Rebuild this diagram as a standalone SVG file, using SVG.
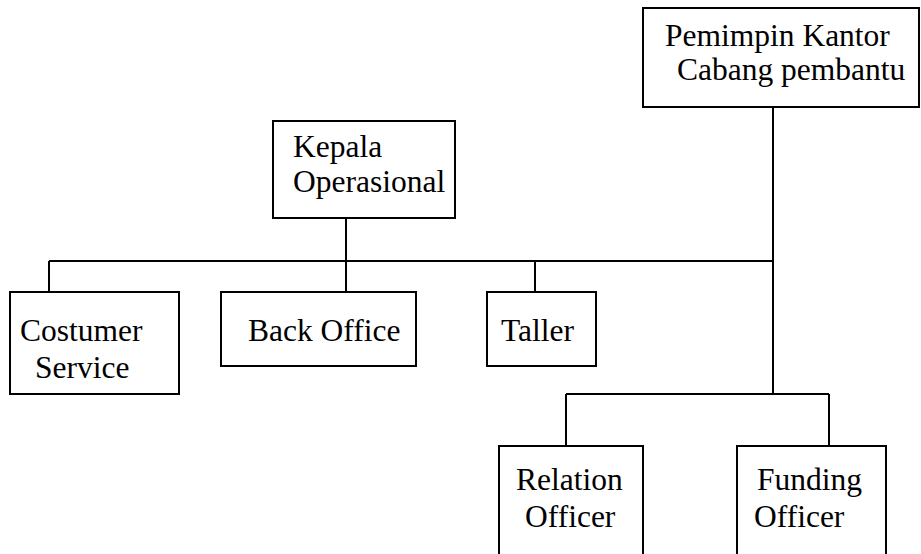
<svg xmlns="http://www.w3.org/2000/svg" width="921" height="554" viewBox="0 0 921 554">
  <style>
    .box { fill: #ffffff; stroke: #000000; stroke-width: 2; }
    .link { fill: none; stroke: #000000; stroke-width: 2; }
    .label { font-family: "Liberation Serif", "Times New Roman", serif; font-size: 31.5px; fill: #000000; }
  </style>
  <rect width="921" height="554" fill="#ffffff"/>

  <!-- connectors -->
  <g id="connectors">
    <path class="link" d="M773 107 V394"/>
    <path class="link" d="M49 261 H773"/>
    <path class="link" d="M346 218 V261"/>
    <path class="link" d="M49 261 V292"/>
    <path class="link" d="M346 261 V292"/>
    <path class="link" d="M535 261 V292"/>
    <path class="link" d="M566 394 H829"/>
    <path class="link" d="M566 394 V446"/>
    <path class="link" d="M829 394 V446"/>
  </g>

  <g id="pemimpin">
    <rect class="box" x="643" y="8" width="276" height="99"/>
    <text class="label" x="665" y="46">Pemimpin Kantor</text>
    <text class="label" x="677" y="80">Cabang pembantu</text>
  </g>

  <g id="kepala-operasional">
    <rect class="box" x="273" y="121" width="182" height="97"/>
    <text class="label" x="293" y="157">Kepala</text>
    <text class="label" x="293" y="192">Operasional</text>
  </g>

  <g id="costumer-service">
    <rect class="box" x="10" y="292" width="169" height="102"/>
    <text class="label" x="20" y="341">Costumer</text>
    <text class="label" x="35" y="378">Service</text>
  </g>

  <g id="back-office">
    <rect class="box" x="221" y="292" width="195" height="74"/>
    <text class="label" x="248" y="341">Back Office</text>
  </g>

  <g id="taller">
    <rect class="box" x="487" y="292" width="109" height="74"/>
    <text class="label" x="501" y="341">Taller</text>
  </g>

  <g id="relation-officer">
    <rect class="box" x="499" y="446" width="144" height="120"/>
    <text class="label" x="516" y="490">Relation</text>
    <text class="label" x="525" y="527">Officer</text>
  </g>

  <g id="funding-officer">
    <rect class="box" x="737" y="446" width="149" height="120"/>
    <text class="label" x="757" y="490">Funding</text>
    <text class="label" x="754" y="527">Officer</text>
  </g>
</svg>
